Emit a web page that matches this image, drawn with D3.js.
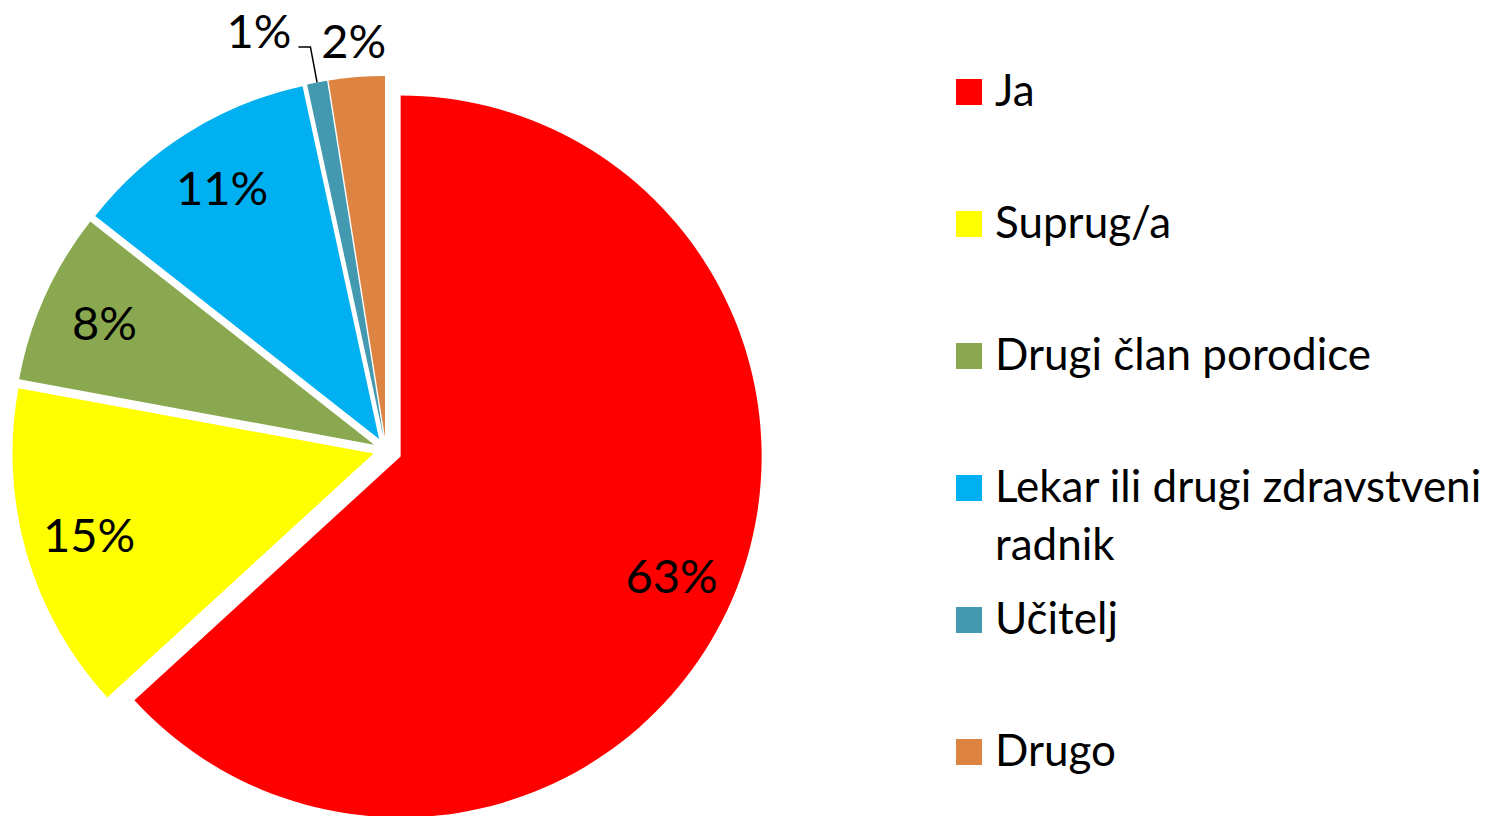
<!DOCTYPE html>
<html>
<head>
<meta charset="utf-8">
<script src="https://cdn.jsdelivr.net/npm/d3@7"></script>
<style>
  body { margin: 0; background: #fff; }
  text { font-family: Lato, "Open Sans", sans-serif; fill: #000; }
</style>
</head>
<body>
<div class="chart"></div>
<script>
// data
var categories = ["Ja", "Suprug/a", "Drugi član porodice", "Lekar ili drugi zdravstveni radnik", "Učitelj", "Drugo"];
var values = [63.2, 14.7, 7.7, 11.0, 0.9, 2.5];
var labels = ["63%", "15%", "8%", "11%", "1%", "2%"];
var colors = ["#ff0000", "#ffff00", "#8aa84f", "#00b0f0", "#4399b0", "#dd8443"];

var svgWidth = 1495;
var svgHeight = 816;

var cx = 386, cy = 450;
var radius = 361;
var explode = 13;      // every slice is pulled out a bit
var explodeFirst = 16; // "Ja" a bit more

var svg = d3.select(".chart")
  .append("svg")
  .attr("width", svgWidth)
  .attr("height", svgHeight);

var pie = d3.pie().sort(null).value(function(d) { return d; });
var arcs = pie(values);

var arc = d3.arc().innerRadius(0).outerRadius(radius);
var labelArc = d3.arc().innerRadius(radius * 0.82).outerRadius(radius * 0.82);

function offset(d, i) {
  var mid = (d.startAngle + d.endAngle) / 2;
  var e = i === 0 ? explodeFirst : explode;
  return [Math.sin(mid) * e, -Math.cos(mid) * e];
}

var chart = svg.append("g")
  .attr("transform", `translate(${cx},${cy})`);

var slices = chart.selectAll("g.slice")
  .data(arcs)
  .enter().append("g")
  .attr("class", "slice")
  .attr("transform", function(d, i) {
    var o = offset(d, i);
    return `translate(${o[0]},${o[1]})`;
  });

slices.append("path")
  .attr("d", arc)
  .style("fill", function(d, i) { return colors[i]; });

// inside labels for the big slices
slices.filter(function(d) { return d.data >= 5; })
  .append("text")
  .attr("transform", function(d) { return `translate(${labelArc.centroid(d)})`; })
  .attr("text-anchor", "middle")
  .attr("dy", "0.36em")
  .style("font-size", "47px")
  .text(function(d) { return labels[values.indexOf(d.data)]; });

// outside labels for the two small slices
var outArc = d3.arc().innerRadius(radius * 1.1).outerRadius(radius * 1.1);
var edgeArc = d3.arc().innerRadius(radius).outerRadius(radius);

// Drugo (2%)
var drugo = slices.filter(function(d, i) { return i === 5; });
drugo.append("text")
  .attr("transform", function(d) { return `translate(${outArc.centroid(d)})`; })
  .attr("text-anchor", "middle")
  .attr("dy", "0.36em")
  .style("font-size", "47px")
  .text(labels[5]);

// Učitelj (1%) with leader line
var ucitelj = slices.filter(function(d, i) { return i === 4; });
ucitelj.append("path")
  .attr("d", function(d) {
    var a = edgeArc.centroid(d);
    var b = outArc.centroid(d);
    return "M" + a + "L" + b + "L" + [b[0] - 12, b[1]];
  })
  .style("fill", "none")
  .style("stroke", "#000")
  .style("stroke-width", 1.5);
ucitelj.append("text")
  .attr("transform", function(d) {
    var b = outArc.centroid(d);
    return `translate(${b[0] - 19},${b[1] + 1})`;
  })
  .attr("text-anchor", "end")
  .style("font-size", "47px")
  .text(labels[4]);

// legend
var legendY = d3.scaleLinear().domain([0, categories.length - 1]).range([92, 752]);

var legend = svg.append("g").attr("class", "legend");

var items = legend.selectAll("g")
  .data(categories)
  .enter().append("g")
  .attr("transform", function(d, i) { return `translate(956,${legendY(i)})`; });

items.append("rect")
  .attr("x", 0)
  .attr("y", -13)
  .attr("width", 26)
  .attr("height", 26)
  .style("fill", function(d, i) { return colors[i]; });

items.append("text")
  .attr("x", 39)
  .attr("y", 14)
  .style("font-size", "44px")
  .each(function(d) {
    var t = d3.select(this);
    if (d.indexOf("zdravstveni") > 0) {
      t.append("tspan").attr("x", 39).text("Lekar ili drugi zdravstveni");
      t.append("tspan").attr("x", 39).attr("dy", 58).text("radnik");
    } else {
      t.text(d);
    }
  });
</script>
</body>
</html>
